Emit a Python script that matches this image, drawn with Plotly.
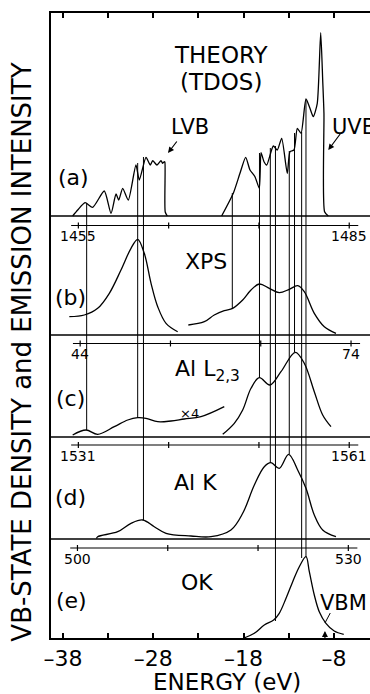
import plotly.graph_objects as go

# ---------------- data (energies in eV, intensities in arbitrary units) ----------------
# (a) theory TDOS
tdos_lvb_E = [-36.93, -36.37, -35.56, -34.71, -33.43, -32.68, -32.13, -31.83, -31.39, -30.77,
              -29.92, -29.55, -28.81, -28.33, -28.07, -27.59, -27.15, -26.96, -26.78, -26.72,
              -26.68, -26.45]
tdos_lvb_I = [0, 6, 13.3, 8.7, 25, 2.7, 22, 16, 27.7, 16,
              51, 36, 58.7, 51, 55.3, 51, 55.3, 52.7, 54.3, 54,
              4, 0]
tdos_uvb_E = [-20.43, -19.14, -18.40, -17.77, -17.29, -16.74, -16.26, -16.07, -15.74, -15.44,
              -14.71, -14.27, -13.78, -13.16, -12.86, -12.42, -12.05, -11.64, -11.09, -10.65,
              -10.28, -9.84, -9.46, -9.24, -9.10, -9.03, -8.62]
tdos_uvb_I = [0, 22.7, 42.7, 58.7, 46, 39.3, 27.7, 63.3, 54.3, 51,
              70, 66, 77.7, 42.7, 64.3, 66, 87.7, 82.7, 117, 107.7,
              99.3, 112.7, 183.3, 136, 102.7, 4.3, 0]
# (b) XPS
xps_left_E = [-37.30, -35.64, -34.16, -32.87, -31.58, -30.47, -29.73, -29.00, -28.25, -27.51, -26.59, -25.30]
xps_left_I = [18.3, 20, 26.7, 41.7, 65, 86.7, 95.7, 81.7, 51.7, 28.3, 11.7, 3.3]
xps_right_E = [-24.12, -22.35, -21.25, -20.14, -19.21, -18.10, -17.18, -16.26, -15.15, -14.05,
               -12.94, -12.01, -11.28, -10.17, -9.06, -7.77]
xps_right_I = [10, 13.3, 20, 24.3, 26.7, 35, 45, 51, 46.7, 42.3,
               45.7, 49.3, 43.3, 21.7, 8.3, 1.7]
# (c) Al L2,3
all_left_E = [-36.93, -35.45, -34.16, -32.32, -30.83, -29.73, -28.81, -27.51, -26.04, -24.57, -22.72, -20.14]
all_left_I = [2, 7, 2.7, 10.3, 17, 19.3, 18.7, 15.3, 16, 18, 20.3, 30.3]
all_right_E = [-20.31, -19.03, -18.10, -17.18, -16.26, -15.08, -13.86, -12.27, -11.28, -10.17, -9.24, -8.32]
all_right_I = [2.7, 13.7, 27, 48.7, 59.3, 52, 65.3, 84.7, 73.7, 45.3, 22, 10.3]
# (d) Al K
alk_E = [-34.30, -34.16, -31.94, -30.47, -29.17, -27.89, -26.59, -23.83, -21.61, -19.40, -18.10,
         -16.81, -15.71, -14.97, -14.05, -13.01, -12.01, -11.09, -10.17, -9.24, -7.77]
alk_I = [0.5, 2.3, 7.3, 15.7, 19, 12.3, 5.7, 3, 2.3, 9, 25.7,
         54, 72.3, 76.3, 70.7, 84.7, 69, 50.7, 24, 9, 2.3]
# (e) O K
ok_E = [-17.99, -16.81, -15.71, -14.67, -14.05, -13.30, -12.56, -11.83, -11.09, -10.72,
        -10.17, -9.62, -8.88, -7.96, -6.91]
ok_I = [0, 4.7, 13, 18, 24.7, 39.7, 56.3, 71.3, 81.3, 66.3,
        43, 26.3, 14.7, 7, 3.7]

# guide lines connecting features: energy, upper and lower end (in plot height units)
guide_E = [-35.38, -29.73, -29.09, -19.25, -16.24, -15.04, -14.47, -12.94, -12.36, -11.57, -11.09]
guide_top = [435, 475, 481, 445, 485, 490, 492, 487, 505, 506, 538]
guide_bot = [208, 220, 118, 329, 260, 175, 17, 184, 286, 80, 81]

# secondary (photon / emission) energy scales
sec_ticks = [[1455, 1465, 1475, 1485], [44, 54, 64, 74], [1531, 1541, 1551, 1561], [500, 510, 520, 530]]
sec_labels = [["1455", "1485"], ["44", "74"], ["1531", "1561"], ["500", "530"]]
sec_offset = [1491.3, 80.1, 1567.3, 536.4]

main_ticks = [-38, -33, -28, -23, -18, -13, -8, -3]
main_labels = ["\u201338", "", "\u201328", "", "\u201318", "", "\u20138", ""]

# ---------------- layout constants ----------------
base = {"a": 422, "b": 303, "c": 201, "d": 99, "e": 0}
sec_y = [412.5, 294.5, 193, 90]
sep_y = [422, 303, 201, 99]
FONT = "DejaVu Sans"
K = "black"

fig = go.Figure()

def curve(E, I, b, smooth=1.0):
    fig.add_trace(go.Scatter(x=E, y=[v + b for v in I], mode="lines",
                             line=dict(color=K, width=1.3, shape="spline", smoothing=smooth),
                             hoverinfo="skip", showlegend=False))

curve(tdos_lvb_E, tdos_lvb_I, base["a"], 0.6)
curve(tdos_uvb_E, tdos_uvb_I, base["a"], 0.6)
curve(xps_left_E, xps_left_I, base["b"])
curve(xps_right_E, xps_right_I, base["b"])
curve(all_left_E, all_left_I, base["c"])
curve(all_right_E, all_right_I, base["c"])
curve(alk_E, alk_I, base["d"])
curve(ok_E, ok_I, base["e"])

shapes = []
# panel separators
for y in sep_y:
    shapes.append(dict(type="line", xref="paper", x0=0, x1=1, yref="y", y0=y, y1=y,
                       line=dict(color=K, width=1.6)))
# guide lines
for e, t, b in zip(guide_E, guide_top, guide_bot):
    shapes.append(dict(type="line", xref="x", yref="y", x0=e, x1=e, y0=b, y1=t,
                       line=dict(color=K, width=1)))

annotations = []
# secondary scales
for ticks, labs, off, y in zip(sec_ticks, sec_labels, sec_offset, sec_y):
    xs = [t - off for t in ticks]
    shapes.append(dict(type="line", xref="x", yref="y", x0=xs[0] - 0.8, x1=xs[-1] + 1.0,
                       y0=y, y1=y, line=dict(color=K, width=1.2)))
    for xv in xs:
        shapes.append(dict(type="line", xref="x", yref="y", x0=xv, x1=xv, y0=y - 3, y1=y + 3,
                           line=dict(color=K, width=1.2)))
    for xv, lab in zip([xs[0], xs[-1]], labs):
        annotations.append(dict(x=xv, y=y - 10.5, xref="x", yref="y", text=lab, showarrow=False,
                                font=dict(family=FONT, size=14, color=K),
                                xanchor="center", yanchor="middle"))

def txt(x, y, s, size, xanchor="center"):
    annotations.append(dict(x=x, y=y, xref="x", yref="y", text=s, showarrow=False,
                            font=dict(family=FONT, size=size, color=K),
                            xanchor=xanchor, yanchor="middle"))

txt(-36.89, 461, "(a)", 22)
txt(-37.22, 341, "(b)", 22)
txt(-37.22, 240, "(c)", 22)
txt(-37.22, 141, "(d)", 22)
txt(-37.10, 38, "(e)", 22)
txt(-20.50, 583, "THEORY", 23)
txt(-20.50, 556, "(TDOS)", 23)
txt(-23.94, 511, "LVB", 21)
txt(-8.43, 511, "UVB", 21, "left")
txt(-22.16, 377, "XPS", 22)
txt(-22.0, 268, "Al L<sub>2,3</sub>", 22)
txt(-23.94, 225, "\u00d74", 13)
txt(-23.38, 156, "Al K", 22)
txt(-23.16, 56, "OK", 22)
txt(-4.15, 35, "VBM", 21, "right")

# arrows
for (hx, hy, tx, ty) in [(-26.37, 485, -25.27, 498), (-8.62, 488, -7.14, 506), (-8.99, 7, -8.99, -3)]:
    annotations.append(dict(x=hx, y=hy, ax=tx, ay=ty, xref="x", yref="y", axref="x", ayref="y",
                            text="", showarrow=True, arrowhead=2, arrowsize=1, arrowwidth=1.2,
                            arrowcolor=K))
shapes.append(dict(type="line", xref="x", yref="y", x0=-8.99, x1=-8.40, y0=15, y1=25,
                   line=dict(color=K, width=1)))

# axis titles
annotations.append(dict(x=0.552, y=-0.0704, xref="paper", yref="paper", text="ENERGY (eV)",
                        showarrow=False, font=dict(family=FONT, size=23, color=K),
                        xanchor="center", yanchor="middle"))
annotations.append(dict(x=-0.092, y=0.4576, xref="paper", yref="paper",
                        text="VB-STATE DENSITY and EMISSION INTENSITY", textangle=-90,
                        showarrow=False, font=dict(family=FONT, size=26, color=K),
                        xanchor="center", yanchor="middle"))

fig.update_layout(
    width=370, height=694,
    margin=dict(l=51, r=0, t=13, b=56),
    paper_bgcolor="white", plot_bgcolor="white",
    showlegend=False,
    shapes=shapes, annotations=annotations,
    xaxis=dict(range=[-39.33, -4.0], showgrid=False, zeroline=False,
               showline=True, linewidth=2, linecolor=K, mirror="ticks",
               ticks="inside", ticklen=5, tickwidth=1.5, tickcolor=K,
               tickvals=main_ticks, ticktext=main_labels,
               tickfont=dict(family=FONT, size=22, color=K)),
    yaxis=dict(range=[0, 625], showgrid=False, zeroline=False, showticklabels=False,
               showline=True, linewidth=2, linecolor=K, ticks=""),
)

fig.write_html("out.html", config={"displayModeBar": False},
               post_script="document.body.style.margin='0';document.body.style.overflow='hidden';")
